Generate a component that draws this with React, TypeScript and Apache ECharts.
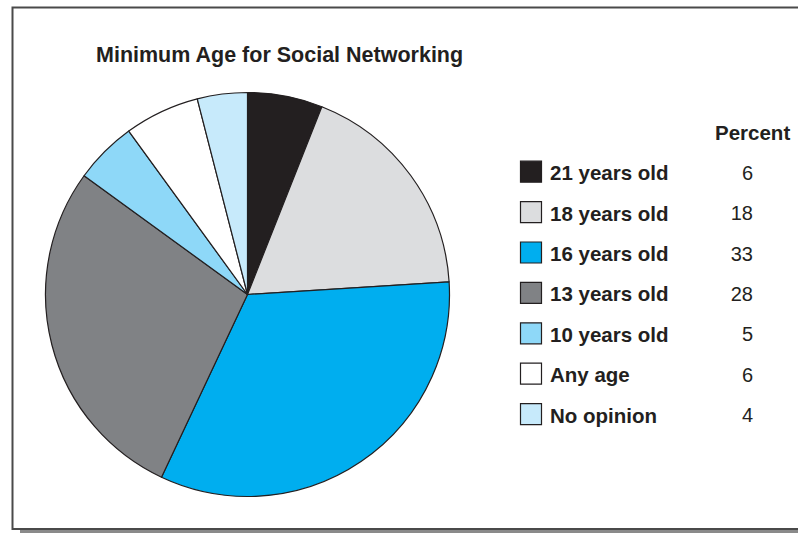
import React, { useEffect, useRef } from "react";
import * as echarts from "echarts";

const title = "Minimum Age for Social Networking";
const categories = ["21 years old", "18 years old", "16 years old", "13 years old", "10 years old", "Any age", "No opinion"];
const percents = [6, 18, 33, 28, 5, 6, 4];
const colors = ["#231f20", "#dcdddf", "#00aeef", "#808285", "#8ed8f8", "#ffffff", "#c7eafb"];
const valueHeader = "Percent";

const FONT = "'Liberation Sans', Arial, Helvetica, sans-serif";

export default function App() {
  const ref = useRef<HTMLDivElement>(null);
  useEffect(() => {
    if (!ref.current) return;
    const chart = echarts.init(ref.current, null, { renderer: "svg" });
    const rowCenter0 = 171.7;
    const rowStep = 40.4;
    const legendItems = categories.flatMap((c, i) => {
      const cy = rowCenter0 + i * rowStep;
      return [
        {
          type: "rect",
          shape: { x: 520.5, y: cy - 10.5, width: 21, height: 21 },
          style: { fill: colors[i], stroke: "#231f20", lineWidth: 1.2 },
        },
        {
          type: "text",
          x: 550,
          y: cy + 1,
          style: {
            text: c,
            font: `bold 20.5px ${FONT}`,
            fill: "#231f20",
            textAlign: "left",
            textVerticalAlign: "middle",
          },
        },
        {
          type: "text",
          x: 753,
          y: cy + 1,
          style: {
            text: String(percents[i]),
            font: `20px ${FONT}`,
            fill: "#231f20",
            textAlign: "right",
            textVerticalAlign: "middle",
          },
        },
      ];
    });
    chart.setOption({
      animation: false,
      backgroundColor: "#ffffff",
      title: {
        text: title,
        left: 96,
        top: 43.5,
        padding: 0,
        textStyle: { fontFamily: FONT, fontWeight: "bold", fontSize: 21.5, color: "#231f20" },
      },
      graphic: [
        {
          type: "rect",
          shape: { x: 20, y: 530, width: 800, height: 4 },
          style: { fill: "#8a8a8a" },
          z: 0,
        },
        {
          type: "rect",
          shape: { x: 12.5, y: 7.5, width: 800, height: 521.5 },
          style: { fill: "none", stroke: "#4a4a4a", lineWidth: 2 },
          z: 1,
        },
        {
          type: "text",
          x: 715,
          y: 132,
          style: {
            text: valueHeader,
            font: `bold 20.5px ${FONT}`,
            fill: "#231f20",
            textVerticalAlign: "middle",
          },
        },
        ...legendItems,
      ],
      series: [
        {
          type: "pie",
          center: [247.5, 294.5],
          radius: [0, 202],
          startAngle: 90,
          clockwise: true,
          label: { show: false },
          labelLine: { show: false },
          emphasis: { disabled: true },
          itemStyle: { borderColor: "#231f20", borderWidth: 1.2 },
          data: categories.map((c, i) => ({ name: c, value: percents[i], itemStyle: { color: colors[i] } })),
        },
      ],
    });
    return () => chart.dispose();
  }, []);
  return <div ref={ref} style={{ position: "fixed", left: 0, top: 0, width: 798, height: 533 }} />;
}
